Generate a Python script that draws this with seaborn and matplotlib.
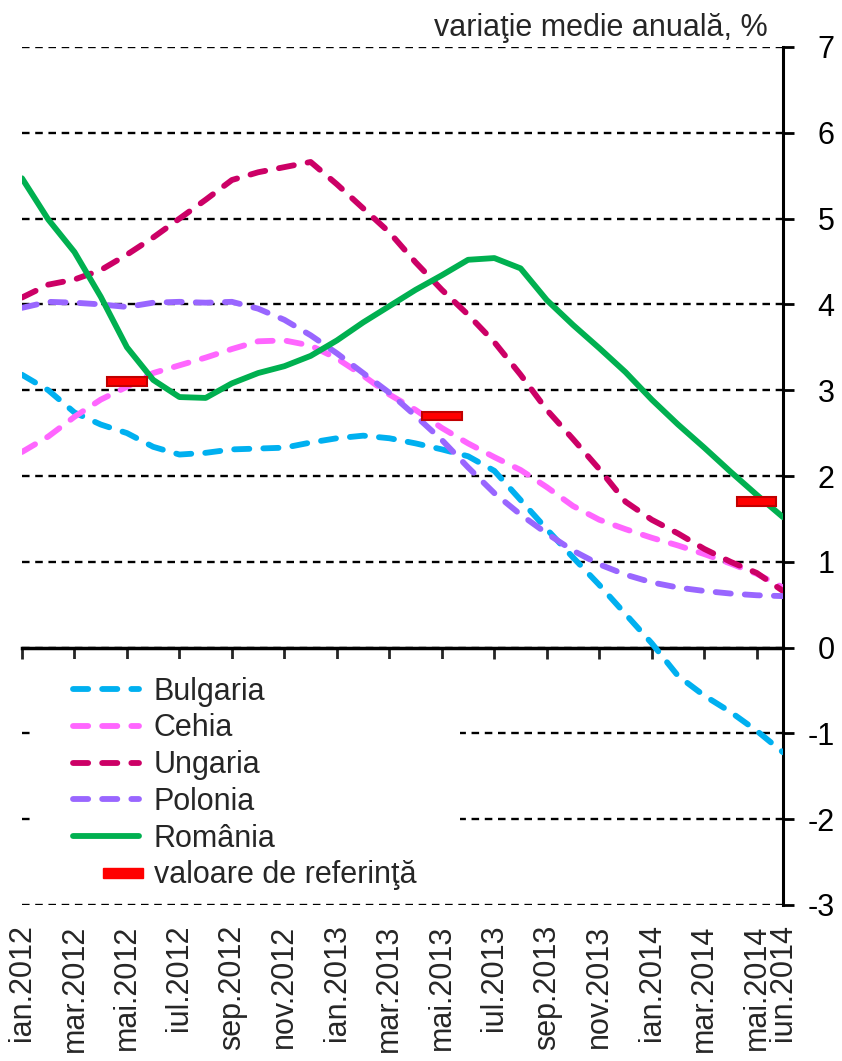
import pandas as pd
import numpy as np
import matplotlib
matplotlib.use('Agg')
import matplotlib.pyplot as plt
import seaborn as sns
from matplotlib.lines import Line2D
from matplotlib.patches import Rectangle
from matplotlib.legend_handler import HandlerPatch

sns.set_style("white")
plt.rcParams['font.family'] = ['Liberation Sans', 'DejaVu Sans']
plt.rcParams['axes.unicode_minus'] = False

# month labels ian.2012 .. iun.2014
month_abbr = ['ian', 'feb', 'mar', 'apr', 'mai', 'iun', 'iul', 'aug', 'sep', 'oct', 'nov', 'dec']
months = [f'{m}.{y}' for y in (2012, 2013, 2014) for m in month_abbr][:30]
tick_labels = ['ian.2012', 'mar.2012', 'mai.2012', 'iul.2012', 'sep.2012', 'nov.2012',
               'ian.2013', 'mar.2013', 'mai.2013', 'iul.2013', 'sep.2013', 'nov.2013',
               'ian.2014', 'mar.2014', 'mai.2014', 'iun.2014']

bulgaria = [3.18, 3.00, 2.74, 2.60, 2.50, 2.34, 2.25, 2.27, 2.31, 2.32, 2.33, 2.39, 2.44, 2.47, 2.44,
            2.38, 2.31, 2.23, 2.06, 1.72, 1.38, 1.05, 0.73, 0.39, 0.05, -0.33, -0.56, -0.75, -0.97, -1.22]
cehia = [2.28, 2.46, 2.69, 2.89, 3.04, 3.20, 3.29, 3.38, 3.48, 3.57, 3.58, 3.52, 3.37, 3.17, 2.95,
         2.77, 2.56, 2.38, 2.22, 2.07, 1.87, 1.65, 1.49, 1.38, 1.28, 1.19, 1.09, 0.98, 0.86, 0.70]
ungaria = [4.08, 4.23, 4.29, 4.40, 4.58, 4.78, 5.00, 5.22, 5.45, 5.54, 5.60, 5.66, 5.40, 5.12, 4.84,
           4.49, 4.17, 3.88, 3.56, 3.18, 2.77, 2.43, 2.08, 1.70, 1.49, 1.33, 1.15, 1.00, 0.87, 0.66]
polonia = [3.96, 4.03, 4.02, 4.00, 3.97, 4.02, 4.03, 4.02, 4.03, 3.95, 3.82, 3.64, 3.43, 3.20, 2.97,
           2.70, 2.42, 2.10, 1.80, 1.55, 1.33, 1.13, 0.97, 0.85, 0.76, 0.70, 0.66, 0.63, 0.61, 0.60]
romania = [5.47, 4.99, 4.61, 4.09, 3.50, 3.12, 2.92, 2.91, 3.08, 3.20, 3.28, 3.40, 3.58, 3.79, 3.98,
           4.17, 4.34, 4.52, 4.54, 4.42, 4.05, 3.76, 3.49, 3.21, 2.89, 2.60, 2.33, 2.05, 1.78, 1.52]

ref_months = ['mai.2012', 'mai.2013', 'mai.2014']
ref_values = [3.1, 2.7, 1.7]

countries = ['Bulgaria', 'Cehia', 'Ungaria', 'Polonia', 'România']
series = [bulgaria, cehia, ungaria, polonia, romania]
colors = {'Bulgaria': '#00B0F0', 'Cehia': '#FF66FF', 'Ungaria': '#CC0066',
          'Polonia': '#9966FF', 'România': '#00B050'}
dash = (2.6, 2.4)
dashes = {'Bulgaria': dash, 'Cehia': dash, 'Ungaria': dash, 'Polonia': dash, 'România': ''}

df = pd.concat([pd.DataFrame({'month': np.arange(len(months)), 'value': vals, 'tara': name})
                for name, vals in zip(countries, series)], ignore_index=True)

fig = plt.figure(figsize=(8.42, 10.61), dpi=100)
ax = fig.add_axes([22 / 842, 1 - 905 / 1061, 761 / 842, 858 / 1061])

sns.lineplot(data=df, x='month', y='value', hue='tara', style='tara', palette=colors,
             dashes=dashes, linewidth=4.2, dash_capstyle='round', solid_capstyle='round',
             legend=False, ax=ax, zorder=3)

ref_x = [months.index(m) for m in ref_months]
ax.bar(ref_x, [0.1] * len(ref_values), bottom=np.array(ref_values) - 0.05, width=1.5,
       color='#FF0000', edgecolor='#C00000', linewidth=1.5, zorder=4)

ax.set_xlim(0, 29)
ax.set_ylim(-3, 7)
ax.set_xlabel('')
ax.set_ylabel('')

# axes styling: y axis on the right, x axis through zero
for side in ['left', 'top']:
    ax.spines[side].set_visible(False)
ax.spines['right'].set_linewidth(2.2)
ax.spines['right'].set_color('black')
ax.spines['bottom'].set_position(('data', 0))
ax.spines['bottom'].set_linewidth(2.5)
ax.spines['bottom'].set_color('black')

ax.yaxis.tick_right()
ax.set_yticks(range(-3, 8))
ax.tick_params(axis='y', direction='out', length=8, width=2, labelsize=22, pad=29, colors='black')
for lbl in ax.get_yticklabels():
    lbl.set_horizontalalignment('right')

ax.set_xticks(range(0, 29, 2))
ax.tick_params(axis='x', direction='out', length=8, width=2, labelbottom=False, bottom=True)

ax.grid(axis='y', color='black', linestyle=(0, (3.2, 2.4)), linewidth=1.7)
ax.grid(axis='x', visible=False)

sec = ax.secondary_xaxis('bottom')
sec.set_xticks([months.index(t) for t in tick_labels], tick_labels, rotation=90)
sec.tick_params(length=0, labelsize=22, pad=14)
sec.spines['bottom'].set_visible(False)

# white box behind the legend hides the gridlines
ax.add_patch(Rectangle((0.0105, 0.0093), 0.565, 0.277, transform=ax.transAxes,
                       facecolor='white', edgecolor='none', zorder=1.8))

handles = [Line2D([], [], color=colors[c], lw=4.2, dash_capstyle='round', solid_capstyle='round',
                  linestyle=(0, dash) if c != 'România' else '-') for c in countries]
ref_handle = Rectangle((0, 0), 1, 1, facecolor='#FF0000', edgecolor='#FF0000')


def ref_patch(legend, orig_handle, xdescent, ydescent, width, height, fontsize):
    return Rectangle((-xdescent + width * 0.46, -ydescent + height * 0.26), width * 0.6, height * 0.48)


leg = ax.legend(handles + [ref_handle], countries + ['valoare de referinţă'],
                loc='upper left', bbox_to_anchor=(0.067, 0.266), frameon=False,
                fontsize=22, handlelength=2.15, handletextpad=0.5, labelspacing=0.22,
                borderpad=0, borderaxespad=0,
                handler_map={Rectangle: HandlerPatch(patch_func=ref_patch)})
leg.set_zorder(5)

ax.text(0.98, 1.022, 'variaţie medie anuală, %', transform=ax.transAxes,
        ha='right', va='center', fontsize=22)

fig.savefig('out.png', dpi=100)
